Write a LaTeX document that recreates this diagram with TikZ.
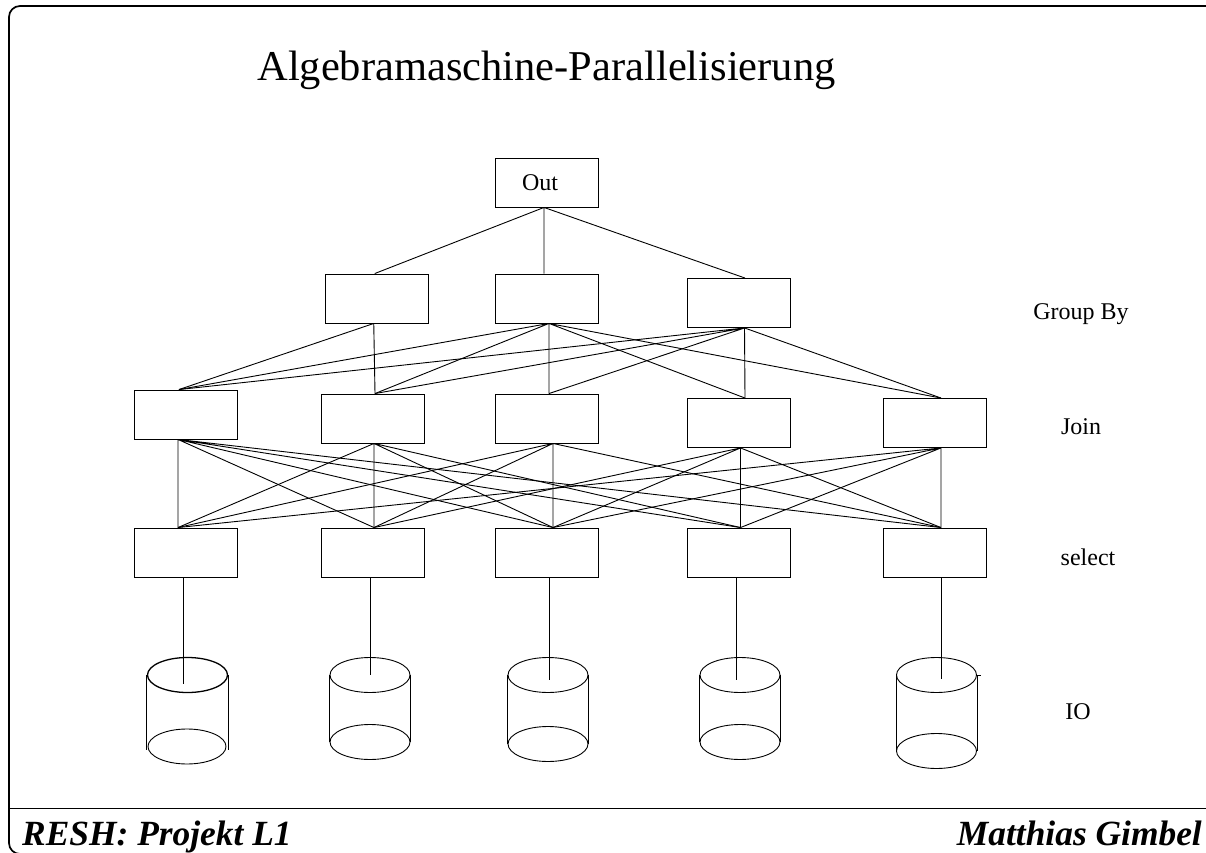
\documentclass[tikz,border=0pt]{standalone}
\usepackage{fontspec}
\setmainfont{Liberation Serif}
\usetikzlibrary{shapes, positioning, calc}
\tikzstyle{opbox} = [rectangle, minimum width=103pt, minimum height=49pt, inner sep=0pt, text centered, draw=black, line width=0.9pt, font=\fontsize{24}{28}\selectfont]
\tikzstyle{disk} = [ellipse, minimum width=80pt, minimum height=35pt, inner sep=0pt, draw=black, line width=0.9pt]
\tikzstyle{link} = [line width=0.9pt, draw=black]
\tikzstyle{layerlabel} = [inner sep=0pt, font=\fontsize{24}{28}\selectfont]
\tikzstyle{footer} = [inner sep=0pt, font=\fontsize{35.4}{38}\selectfont\bfseries\itshape]

\begin{document}
\begin{tikzpicture}[x=1pt, y=1pt, node distance=116pt]
\clip (0,0) rectangle (1206,852);
\draw[line width=1.7pt, rounded corners=11pt] (1210,846) -- (9,846) -- (9,-2) -- (30,-2);
\draw[line width=1.1pt] (9,43.5) -- (1206,43.5);

\node (out) [opbox] at (546.5,669.5) {Out\hspace*{13pt}};
\node (title) [above of=out, yshift=-3.5pt, inner sep=0pt, font=\fontsize{42.5}{48}\selectfont] {Algebramaschine-Parallelisierung};
\node (resh) [footer, anchor=base west] at (22,7) {RESH: Projekt L1};
\node (gimbel) [footer, anchor=base east] at (1202,7) {Matthias Gimbel};

% group by
\node (g1) [opbox, below of=out, xshift=-169.75pt] {};
\node (g2) [opbox, below of=out] {};
\node (g3) [opbox, below of=out, xshift=192pt, yshift=-4.5pt] {};
% join
\node (j1) [opbox, below of=g2, xshift=-361pt] {};
\node (j2) [opbox, below of=g2, xshift=-174pt, yshift=-4pt] {};
\node (j3) [opbox, below of=g2, yshift=-4pt] {};
\node (j4) [opbox, below of=g3, yshift=-4pt] {};
\node (j5) [opbox, below of=g3, xshift=196pt, yshift=-4pt] {};
% select
\node (s1) [opbox, below of=j1, yshift=-22pt] {};
\node (s2) [opbox, below of=j2, yshift=-18pt] {};
\node (s3) [opbox, below of=j3, yshift=-18pt] {};
\node (s4) [opbox, below of=j4, yshift=-13.5pt] {};
\node (s5) [opbox, below of=j5, yshift=-13.5pt] {};
% disks
\node (c1t) [disk, below of=s1, xshift=2pt, yshift=-6.5pt, line width=1.3pt] {};
\node (c2t) [disk, below of=s2, xshift=-2.5pt, yshift=-6.5pt] {};
\node (c3t) [disk, below of=s3, xshift=1.5pt, yshift=-6.5pt] {};
\node (c4t) [disk, below of=s4, xshift=1.5pt, yshift=-6.5pt] {};
\node (c5t) [disk, below of=s5, xshift=2pt, yshift=-6.5pt] {};
\node (c1b) [disk, below of=c1t, xshift=-0.5pt, yshift=44.5pt, minimum width=78pt] {};
\node (c2b) [disk, below of=c2t, yshift=49pt] {};
\node (c3b) [disk, below of=c3t, yshift=47pt] {};
\node (c4b) [disk, below of=c4t, yshift=49pt] {};
\node (c5b) [disk, below of=c5t, yshift=40pt] {};

\node (lgroup) [layerlabel, right of=g3, xshift=226.5pt, yshift=-11.5pt] {Group By};
\node (ljoin) [layerlabel, right of=j5, xshift=30.5pt, yshift=-4pt] {Join};
\node (lselect) [layerlabel, right of=s5, xshift=37.5pt, yshift=-4.5pt] {select};
\node (lio) [layerlabel, right of=c5t, xshift=25.5pt, yshift=-37pt] {IO};

% ports
\coordinate (outb) at ([xshift=-2.5pt]out.south);
\coordinate (g1t) at ([xshift=-2pt]g1.north);
\coordinate (g1b) at ([xshift=-3pt]g1.south);
\coordinate (g2t) at ([xshift=-2.5pt]g2.north);
\coordinate (g2b) at ([xshift=2.5pt]g2.south);
\coordinate (g3t) at ([xshift=6.5pt]g3.north);
\coordinate (g3b) at ([xshift=6pt]g3.south);
\coordinate (j1t) at ([xshift=-6.5pt]j1.north);
\coordinate (j1b) at ([xshift=-7.5pt]j1.south);
\coordinate (j2t) at ([xshift=2.5pt]j2.north);
\coordinate (j2b) at ([xshift=1.5pt]j2.south);
\coordinate (j3t) at ([xshift=2.5pt]j3.north);
\coordinate (j3b) at ([xshift=6.5pt]j3.south);
\coordinate (j4t) at ([xshift=6.5pt]j4.north);
\coordinate (j4b) at ([xshift=2pt]j4.south);
\coordinate (j5t) at ([xshift=6.5pt]j5.north);
\coordinate (j5b) at ([xshift=6.5pt]j5.south);
\coordinate (s1t) at ([xshift=-7.5pt]s1.north);
\coordinate (s2t) at ([xshift=1.5pt]s2.north);
\coordinate (s3t) at ([xshift=6.5pt]s3.north);
\coordinate (s4t) at ([xshift=2pt]s4.north);
\coordinate (s5t) at ([xshift=6.5pt]s5.north);
\coordinate (s1b) at ([xshift=-2.5pt]s1.south);
\coordinate (s2b) at ([xshift=-2.5pt]s2.south);
\coordinate (s3b) at ([xshift=2.5pt]s3.south);
\coordinate (s4b) at ([xshift=-2.5pt]s4.south);
\coordinate (s5b) at ([xshift=6.5pt]s5.south);
\coordinate (c1e) at ([xshift=-4.5pt,yshift=-9pt]c1t.center);
\coordinate (c2e) at (c2t.center);
\coordinate (c3e) at ([xshift=1pt,yshift=-5pt]c3t.center);
\coordinate (c4e) at ([xshift=-4pt,yshift=-5pt]c4t.center);
\coordinate (c5e) at ([xshift=4.5pt,yshift=-4pt]c5t.center);

\draw[link] (outb) -- (g1t) (outb) -- (g2t) (outb) -- (g3t);
\draw[link] (g1b) -- (j1t) (g1b) -- (j2t);
\draw[link] (g2b) -- (j1t) (g2b) -- (j2t) (g2b) -- (j3t) (g2b) -- (j4t) (g2b) -- (j5t);
\draw[link] (g3b) -- (j1t) (g3b) -- (j2t) (g3b) -- (j3t) (g3b) -- (j4t) (g3b) -- (j5t);
\draw[link] (j1b) -- (s1t) (j1b) -- (s2t) (j1b) -- (s3t) (j1b) -- (s4t) (j1b) -- (s5t);
\draw[link] (j2b) -- (s1t) (j2b) -- (s2t) (j2b) -- (s3t) (j2b) -- (s4t);
\draw[link] (j3b) -- (s1t) (j3b) -- (s2t) (j3b) -- (s3t) (j3b) -- (s5t);
\draw[link] (j4b) -- (s2t) (j4b) -- (s3t) (j4b) -- (s4t) (j4b) -- (s5t);
\draw[link] (j5b) -- (s1t) (j5b) -- (s3t) (j5b) -- (s4t) (j5b) -- (s5t);
\draw[link] (s1b) -- (c1e);
\draw[link] (s2b) -- (c2e);
\draw[link] (s3b) -- (c3e);
\draw[link] (s4b) -- (c4e);
\draw[link] (s5b) -- (c5e);

% disk sides
\draw[link] (c1t.west) -- ++(0,-75pt) (c1t.east) -- ++(0,-75pt);
\draw[link] (c2t.west) -- (c2t.west |- c2b) (c2t.east) -- (c2t.east |- c2b);
\draw[link] (c3t.west) -- (c3t.west |- c3b) (c3t.east) -- (c3t.east |- c3b);
\draw[link] (c4t.west) -- (c4t.west |- c4b) (c4t.east) -- (c4t.east |- c4b);
\draw[link] (c5t.west) -- (c5t.west |- c5b) (c5t.east) -- (c5t.east |- c5b);
\draw[link] (c5t.east) -- ++(4pt,0);
\end{tikzpicture}
\end{document}
